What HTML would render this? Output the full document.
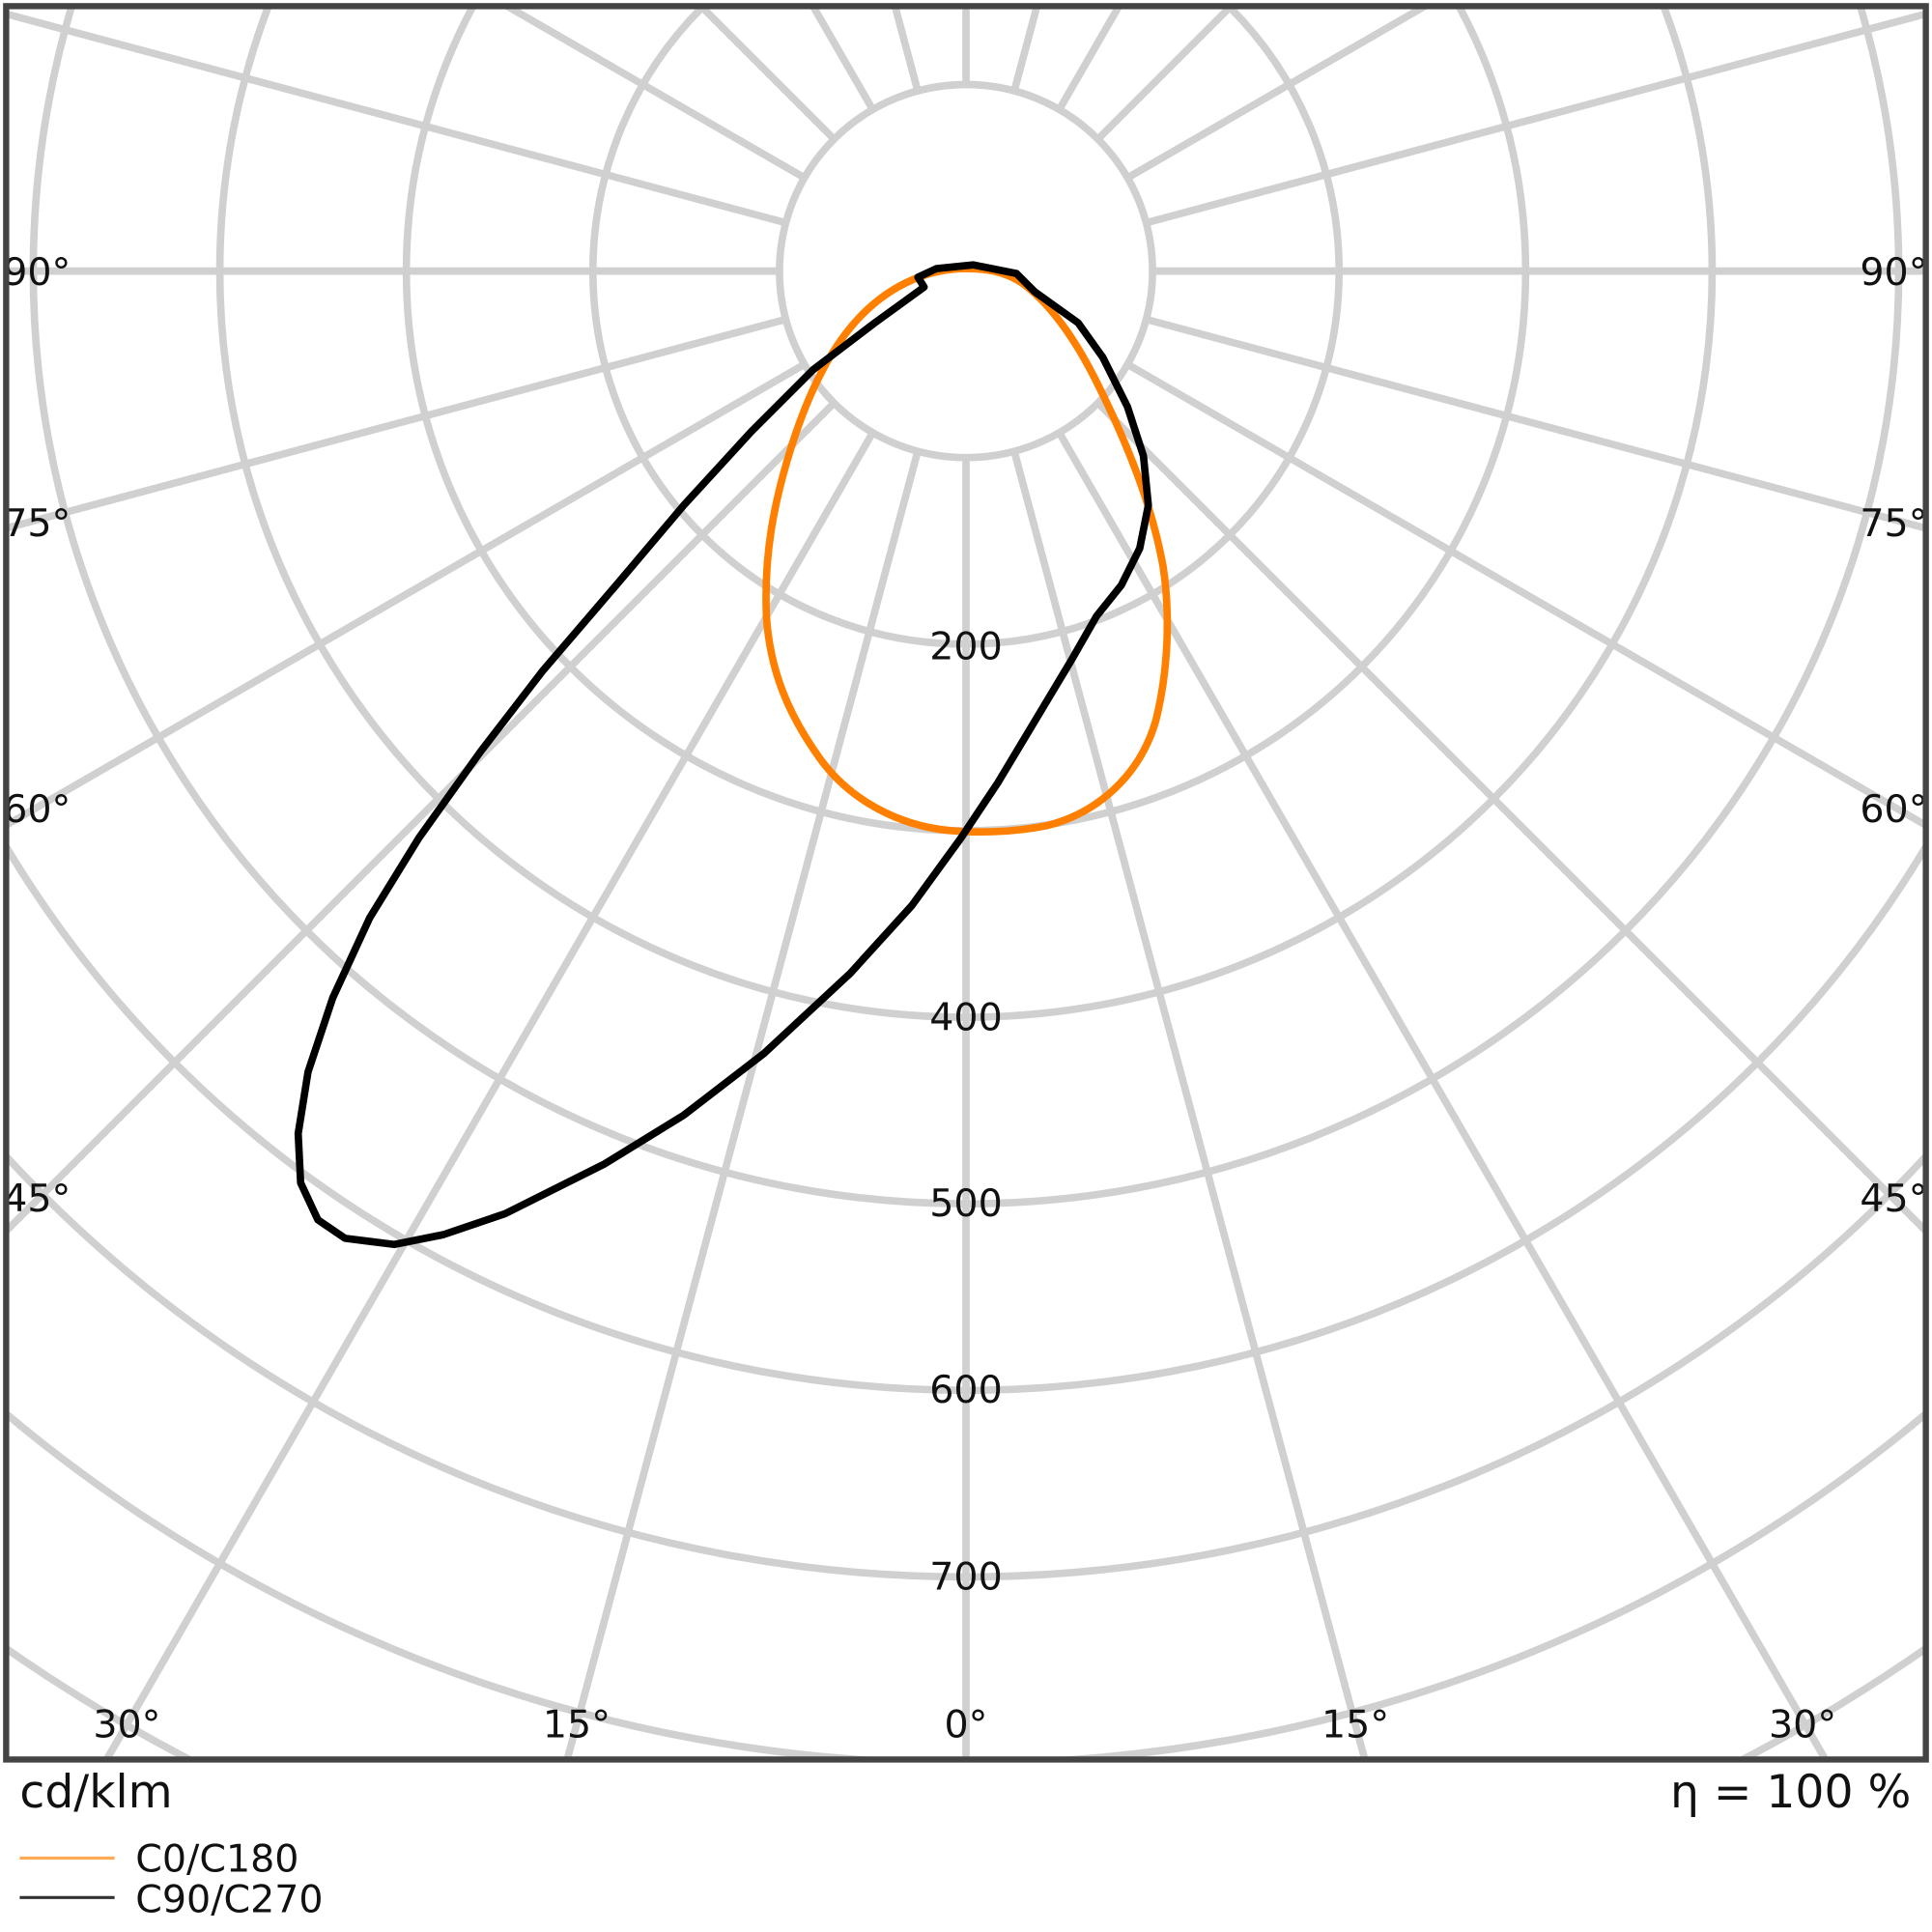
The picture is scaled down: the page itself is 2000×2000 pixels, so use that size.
<!DOCTYPE html>
<html><head><meta charset="utf-8"><style>html,body{margin:0;padding:0;background:#fff;width:2000px;height:2000px;overflow:hidden}svg{display:block}</style></head>
<body>
<svg width="2000" height="2000" viewBox="0 0 1568 1568" xmlns="http://www.w3.org/2000/svg" font-family="DejaVu Sans, Liberation Sans, sans-serif">
<defs><clipPath id="c"><rect x="5" y="5" width="1558" height="1423"/></clipPath></defs>
<rect width="1568" height="1568" fill="#fff"/>
<g clip-path="url(#c)" stroke="#d0d0d0" stroke-width="6" fill="none">
<line x1="784" y1="-1780" x2="784" y2="2220"/>
<line x1="266.4" y1="-1711.9" x2="1301.6" y2="2151.9"/>
<line x1="-216" y1="-1512" x2="1784" y2="1952"/>
<line x1="-630.2" y1="-1194.2" x2="2198.2" y2="1634.2"/>
<line x1="-948" y1="-780" x2="2516" y2="1220"/>
<line x1="-1147.9" y1="-297.6" x2="2715.9" y2="737.6"/>
<line x1="-1216" y1="220" x2="2784" y2="220"/>
<line x1="-1147.9" y1="737.6" x2="2715.9" y2="-297.6"/>
<line x1="-948" y1="1220" x2="2516" y2="-780"/>
<line x1="-630.2" y1="1634.2" x2="2198.2" y2="-1194.2"/>
<line x1="-216" y1="1952" x2="1784" y2="-1512"/>
<line x1="266.4" y1="2151.9" x2="1301.6" y2="-1711.9"/>
<circle cx="784" cy="220" r="151.4" fill="#fff"/>
<circle cx="784" cy="220" r="302.8"/>
<circle cx="784" cy="220" r="454.2"/>
<circle cx="784" cy="220" r="605.6"/>
<circle cx="784" cy="220" r="757"/>
<circle cx="784" cy="220" r="908.4"/>
<circle cx="784" cy="220" r="1059.8"/>
<circle cx="784" cy="220" r="1211.2"/>
<circle cx="784" cy="220" r="1362.6"/>
<circle cx="784" cy="220" r="1514"/>
</g>
<g font-size="31" fill="#111" text-anchor="middle" dominant-baseline="central">
<text x="784" y="525">200</text>
<text x="784" y="826">400</text>
<text x="784" y="977">500</text>
<text x="784" y="1128">600</text>
<text x="784" y="1280">700</text>
<text x="30" y="221">90°</text><text x="1537" y="221">90°</text>
<text x="30" y="425">75°</text><text x="1537" y="425">75°</text>
<text x="30" y="657">60°</text><text x="1537" y="657">60°</text>
<text x="30" y="973">45°</text><text x="1537" y="973">45°</text>
<text x="103" y="1400">30°</text><text x="468" y="1400">15°</text><text x="784" y="1400">0°</text><text x="1100" y="1400">15°</text><text x="1463" y="1400">30°</text>
</g>
<g clip-path="url(#c)" fill="none" stroke-width="6" stroke-linejoin="round">
<path stroke="#ff8000" d="M784,218 C800,218 815,220 830,230 C850,245 870,270 890,310 C915,360 935,410 944,460 C950,500 948,545 938,585 C925,630 890,660 850,670 C820,676 790,676 770,674 C730,670 690,650 665,615 C640,580 625,545 622,500 C620,450 628,410 640,370 C655,320 675,280 700,255 C725,230 755,218 784,218 Z"/>
<path stroke="#000" d="M745,225 L760,218 L790,215 L825,222 L840,237 L875,262 L895,290 L915,330 L928,370 L932,410 L925,445 L910,475 L890,500 L870,535 L840,585 L810,635 L780,680 L740,735 L690,790 L620,855 L555,905 L490,945 L410,985 L360,1002 L320,1010 L280,1005 L258,990 L244,960 L242,920 L250,870 L270,810 L300,745 L340,680 L390,610 L440,545 L500,475 L555,410 L610,350 L660,300 L710,262 L750,233 Z"/>
</g>
<rect x="5" y="5" width="1558" height="1423" fill="none" stroke="#444" stroke-width="5"/>
<g font-size="37" fill="#111">
<text x="16" y="1467">cd/klm</text>
<text x="1551" y="1467" text-anchor="end">η = 100 %</text>
</g>
<line x1="16" y1="1508" x2="93" y2="1508" stroke="#ffaa55" stroke-width="2.5"/>
<line x1="16" y1="1540" x2="93" y2="1540" stroke="#333" stroke-width="2.5"/>
<g font-size="31" fill="#111">
<text x="110" y="1519">C0/C180</text>
<text x="110" y="1552">C90/C270</text>
</g>
</svg>
</body></html>
